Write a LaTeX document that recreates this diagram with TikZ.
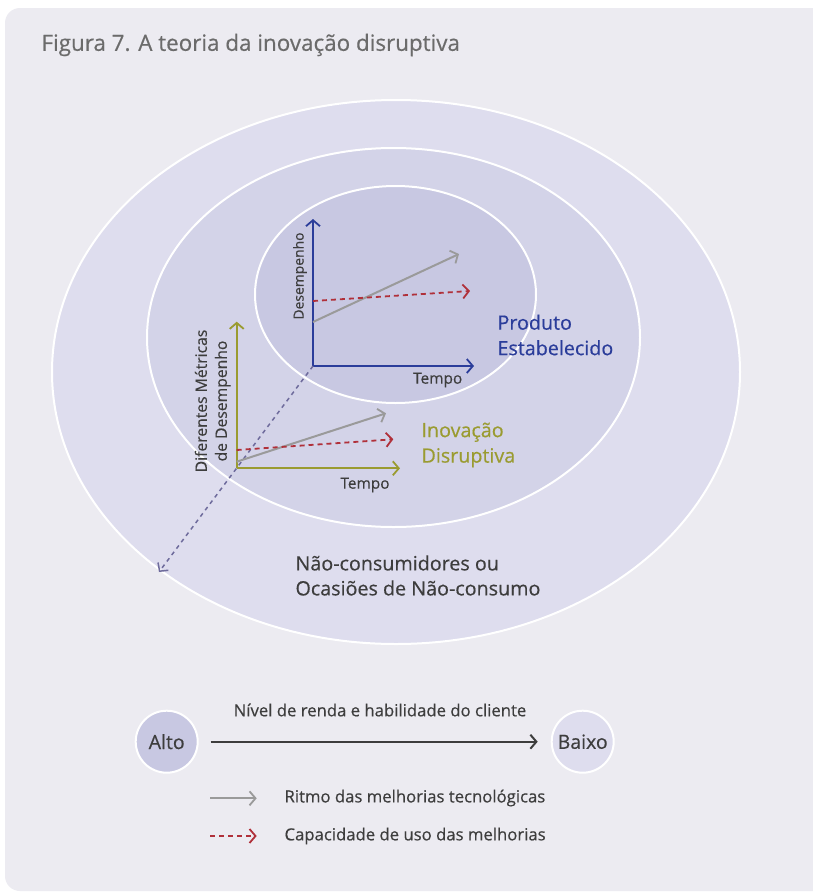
\documentclass[tikz,border=0pt]{standalone}
\usepackage{fontspec}
\setmainfont{Open Sans}[FakeBold=0.45]
\usetikzlibrary{arrows.meta}
\definecolor{bgc}{HTML}{ECEBF1}
\definecolor{outerc}{HTML}{DEDDEE}
\definecolor{midc}{HTML}{D3D3E8}
\definecolor{innerc}{HTML}{C8C8E2}
\definecolor{bluec}{HTML}{2B3D9A}
\definecolor{olivec}{HTML}{9A9B30}
\definecolor{redc}{HTML}{B0303A}
\definecolor{grayc}{HTML}{9A9A9A}
\definecolor{purplec}{HTML}{6E6B9C}
\definecolor{darkc}{HTML}{3D3D3D}
\definecolor{titlec}{HTML}{6B6B6B}
\tikzset{
  barb/.style={-{Straight Barb[length=6pt,width=14pt,line width=1.8pt]}},
  axisline/.style={line width=2pt, barb},
  techline/.style={grayc, line width=2pt, barb},
  useline/.style={redc, line width=1.8pt, dash pattern=on 5pt off 4pt, barb},
  ring/.style={draw=white, line width=2pt},
  axlabel/.style={darkc, font=\fontsize{15.4}{17}\selectfont},
  biglabel/.style={anchor=west, align=left, font=\fontsize{19.7}{25.5}\selectfont},
  legtext/.style={anchor=west, darkc, font=\fontsize{16.7}{20}\selectfont},
  bubble/.style={circle, draw=white, line width=2pt, minimum size=62pt, inner sep=0pt, text=darkc, font=\fontsize{19.5}{22}\selectfont}
}
\begin{document}
\begin{tikzpicture}[x=1pt,y=-1pt]
\useasboundingbox (0,0) rectangle (812,892);
\fill[white] (0,0) rectangle (812,892);
\fill[bgc, rounded corners=15pt] (5,8) rectangle (840,891);

% rings
\draw[ring, fill=outerc] (396,372) ellipse [x radius=344, y radius=272];
\draw[ring, fill=midc] (393.5,337.5) ellipse [x radius=246.5, y radius=189.5];
\draw[ring, fill=innerc] (395.5,294.5) ellipse [x radius=140.5, y radius=108.5];

% title
\node[anchor=west, titlec, font=\fontsize{22.4}{24}\selectfont] (title) at (38,45) {Figura 7. A teoria da inovação disruptiva};

% inner axes
\coordinate (o1) at (313,366);
\coordinate (y1) at (313,219);
\coordinate (x1) at (474,366);
\coordinate (g1s) at (313,322);
\coordinate (g1e) at (459,254);
\coordinate (r1s) at (313,301);
\coordinate (r1e) at (470,291);
\draw[axisline, bluec] (o1) -- (y1);
\draw[axisline, bluec] (o1) -- (x1);
\draw[techline] (g1s) -- (g1e);
\draw[useline] (r1s) -- (r1e);
\node[axlabel, rotate=90, font=\fontsize{13.9}{16}\selectfont] (des1) at (300,276) {Desempenho};
\node[axlabel] (tempo1) at (437.7,380) {Tempo};
\node[biglabel, bluec] (prod) at (494,335) {Produto\\Estabelecido};

% dotted connector
\coordinate (dd) at (159,572);
\draw[purplec, line width=1.5pt, dash pattern=on 4pt off 4pt, -{Straight Barb[length=6pt,width=13pt,line width=1.5pt]}] (o1) -- (dd);

% middle axes
\coordinate (o2) at (236.7,468.3);
\coordinate (y2) at (236.7,321.7);
\coordinate (x2) at (400,468.3);
\coordinate (g2s) at (236.7,461.7);
\coordinate (g2e) at (386,413.3);
\coordinate (r2s) at (236.7,450);
\coordinate (r2e) at (393.3,439.3);
\draw[axisline, olivec] (o2) -- (y2);
\draw[axisline, olivec] (o2) -- (x2);
\draw[techline] (g2s) -- (g2e);
\draw[useline] (r2s) -- (r2e);
\node[axlabel, rotate=90, align=center, font=\fontsize{15.7}{20}\selectfont] (des2) at (212.7,401) {Diferentes Métricas\\de Desempenho};
\node[axlabel] (tempo2) at (365,485) {Tempo};
\node[biglabel, olivec] (inov) at (418,445) {Inovação\\Disruptiva};

% outer ring label
\node[biglabel, darkc, font=\fontsize{19.7}{25}\selectfont] (nao) at (292,575.5) {Não-consumidores ou\\Ocasiões de Não-consumo};

% legend
\node[bubble, fill=innerc] (alto) at (166.7,741.7) {Alto};
\node[bubble, fill=outerc] (baixo) at (582.7,741.7) {Baixo};
\draw[darkc, line width=2pt, shorten <=12pt, shorten >=13pt, -{Straight Barb[length=6pt,width=14pt,line width=2pt]}] (alto) -- (baixo);
\node[darkc, font=\fontsize{16.7}{20}\selectfont] (nivel) at (380,710) {Nível de renda e habilidade do cliente};

\coordinate (lg1s) at (210,798.3);
\coordinate (lg1e) at (256.7,798.3);
\coordinate (lg2s) at (210,836);
\coordinate (lg2e) at (256.7,836);
\draw[techline] (lg1s) -- (lg1e);
\draw[useline] (lg2s) -- (lg2e);
\node[legtext] (leg1) at (281,798) {Ritmo das melhorias tecnológicas};
\node[legtext] (leg2) at (281,836) {Capacidade de uso das melhorias};
\end{tikzpicture}
\end{document}
